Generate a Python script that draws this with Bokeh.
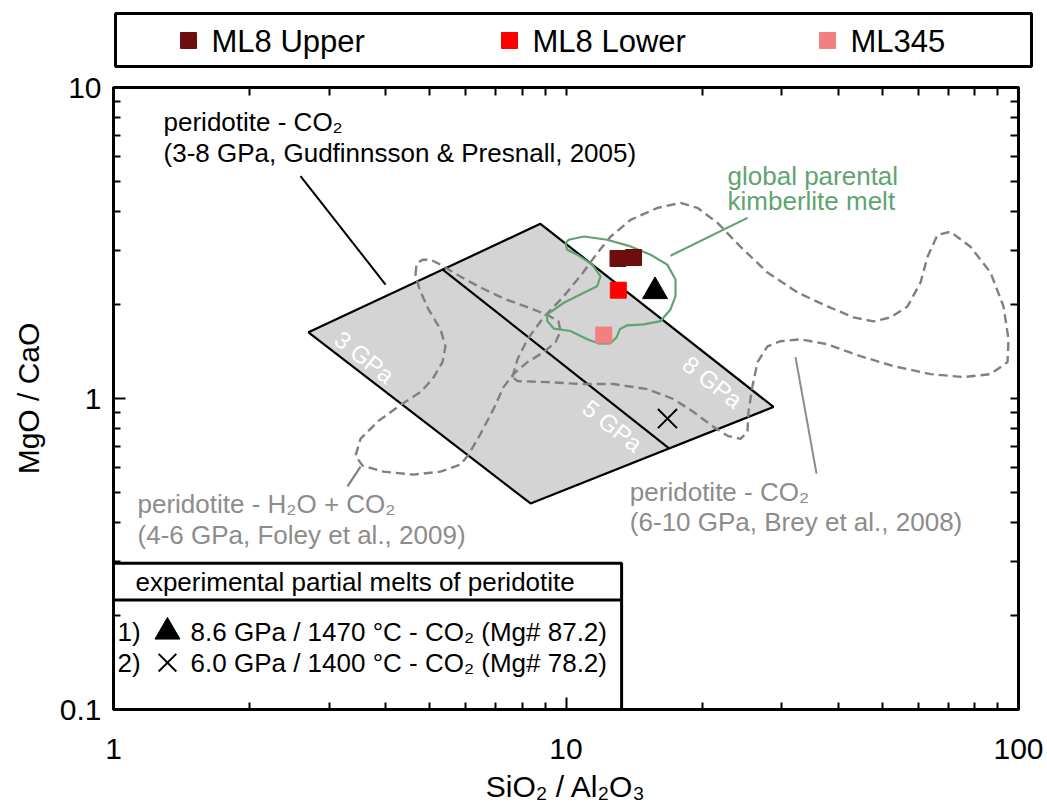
from bokeh.plotting import figure
from bokeh.models import Range1d, LogAxis, FixedTicker, CustomJSTickFormatter
from bokeh.layouts import column
from bokeh.core.properties import value
from bokeh.embed import file_html
from bokeh.resources import INLINE

FONT = "Liberation Sans"

# ---- samples (SiO2/Al2O3, MgO/CaO) ----
sample_names = ["ML8 Upper", "ML8 Lower", "ML345"]
sample_colors = ["#6E0D0D", "#FF0000", "#F28080"]
ml8_upper_x = [13.03, 14.10]
ml8_upper_y = [2.82, 2.84]
ml8_lower_x = [13.05]
ml8_lower_y = [2.23]
ml345_x = [12.12]
ml345_y = [1.60]

# ---- experimental partial melts of peridotite ----
melt1_x, melt1_y = [15.73], [2.21]    # 8.6 GPa / 1470 °C
melt2_x, melt2_y = [16.76], [0.862]   # 6.0 GPa / 1400 °C
melt_ids = ["1)", "2)"]
melt_texts = ["8.6 GPa / 1470 °C - CO₂ (Mg# 87.2)",
              "6.0 GPa / 1400 °C - CO₂ (Mg# 78.2)"]

# ---- peridotite - CO2 field (Gudfinnsson & Presnall, 2005) ----
field_x = [2.697, 8.78, 28.74, 8.35]
field_y = [1.632, 3.644, 0.9393, 0.4597]
gpa5_x = [5.325, 16.87]
gpa5_y = [2.606, 0.6929]
gpa_labels = ["3 GPa", "5 GPa", "8 GPa"]
gpa_label_x = [3.586, 12.67, 21.08]
gpa_label_y = [1.358, 0.8166, 1.129]

# ---- global parental kimberlite melt ----
kimb_x = [9.975, 10.14, 10.95, 12.33, 13.89, 15.38, 16.74, 17.46, 17.46, 17.02,
          16.18, 14.86, 13.65, 13.15, 12.93, 12.54, 11.82, 11.14, 10.23, 9.40,
          9.09, 9.09, 9.89, 10.95, 11.72, 11.92, 11.43, 10.59, 10.06]
kimb_y = [3.161, 3.239, 3.319, 3.239, 3.083, 2.900, 2.694, 2.412, 2.133, 1.934,
          1.774, 1.732, 1.719, 1.669, 1.570, 1.505, 1.502, 1.550, 1.648, 1.678,
          1.774, 1.864, 2.032, 2.187, 2.296, 2.472, 2.694, 2.900, 3.009]

# ---- peridotite - H2O + CO2 (Foley et al., 2009) ----
foley_x = [4.650, 4.674, 4.819, 5.018, 5.280, 5.846, 6.473, 7.276, 8.348, 9.149,
           9.626, 9.724, 9.480, 8.918, 8.221, 7.655, 7.276, 6.918, 6.473, 6.089,
           5.846, 5.280, 4.603, 3.952, 3.550, 3.426, 3.514, 3.852, 4.307, 4.770,
           5.069, 5.334, 5.416, 5.280, 4.967, 4.746]
foley_y = [2.503, 2.714, 2.795, 2.795, 2.694, 2.466, 2.275, 2.097, 1.949, 1.850,
           1.770, 1.644, 1.516, 1.409, 1.309, 1.198, 1.088, 0.9256, 0.7698, 0.6596,
           0.6128, 0.5818, 0.5691, 0.5818, 0.6081, 0.6546, 0.7420, 0.8472, 0.9532, 1.049,
           1.154, 1.309, 1.472, 1.669, 1.934, 2.241]

# ---- peridotite - CO2 (Brey et al., 2008) ----
brey_x = [7.617, 7.813, 8.221, 8.918, 9.874, 10.82, 11.74, 12.54, 13.89, 15.93,
          17.91, 19.53, 21.62, 24.30, 27.88, 32.48, 37.84, 43.19, 47.81, 52.13,
          56.84, 60.74, 62.94, 66.22, 70.73, 78.31, 86.73, 92.66, 95.05, 94.56,
          86.73, 75.57, 63.90, 52.93, 44.76, 37.84, 32.98, 29.79, 27.88, 26.50,
          25.83, 25.31, 25.18, 24.30, 22.75, 21.18, 19.13, 17.28, 15.14, 12.73,
          10.77, 9.102, 7.813]
brey_y = [1.172, 1.338, 1.550, 1.823, 2.128, 2.503, 2.943, 3.311, 3.753, 4.101,
          4.255, 4.101, 3.671, 3.076, 2.540, 2.192, 1.977, 1.823, 1.770, 1.823,
          1.977, 2.359, 2.858, 3.360, 3.436, 3.076, 2.540, 1.977, 1.550, 1.309,
          1.198, 1.172, 1.198, 1.271, 1.368, 1.494, 1.550, 1.528, 1.472, 1.309,
          1.096, 0.9053, 0.7812, 0.7420, 0.7586, 0.8105, 0.9053, 0.9963, 1.072, 1.113,
          1.113, 1.129, 1.138]

# ---- axis ticks ----
x_major = [1, 10, 100]
x_minor = [2, 3, 4, 5, 6, 7, 8, 9, 20, 30, 40, 50, 60, 70, 80, 90]
y_major = [0.1, 1, 10]
y_minor = [0.2, 0.3, 0.4, 0.5, 0.6, 0.7, 0.8, 0.9, 2, 3, 4, 5, 6, 7, 8, 9]

GREEN = "#5FA470"
DASH_GREY = "#808080"
TEXT_GREY = "#8C8C8C"
FIELD_GREY = "#D4D4D4"

# ================= sample legend strip =================
LEG_H = 70
leg = figure(width=1047, height=LEG_H, x_range=Range1d(0, 1047), y_range=Range1d(LEG_H, 0),
             output_backend="svg", toolbar_location=None, min_border=0,
             x_axis_location=None, y_axis_location=None)
leg.frame_align = False
leg.grid.visible = False
leg.outline_line_color = None
leg.background_fill_color = "white"
leg.border_fill_color = "white"
leg.quad(left=[115], right=[1031], top=[13], bottom=[66], fill_color="white",
         line_color="black", line_width=3)
leg.scatter(x=[188, 509, 827], y=[40, 40, 40], marker="square", size=16,
            fill_color=sample_colors, line_color=sample_colors)
leg.text(x=[211, 532, 850], y=[41, 41, 41], text=sample_names, text_font=value(FONT),
         text_font_size=value("31px"), text_color="black", text_align="left",
         text_baseline="middle")

# ================= main plot =================
p = figure(width=1047, height=805 - LEG_H, x_axis_type="log", y_axis_type="log",
           x_range=Range1d(1, 100), y_range=Range1d(0.1, 10),
           output_backend="svg", toolbar_location=None,
           min_border_left=113, min_border_right=29, min_border_top=87 - LEG_H,
           min_border_bottom=93)
p.frame_align = False
p.grid.visible = False
p.background_fill_color = "white"
p.border_fill_color = "white"
p.outline_line_color = "black"
p.outline_line_width = 3

xt = FixedTicker(ticks=x_major, minor_ticks=x_minor)
yt = FixedTicker(ticks=y_major, minor_ticks=y_minor)
fmt = CustomJSTickFormatter(code="return String(tick);")

# mirrored top / right axes: ticks only, no labels
p.add_layout(LogAxis(ticker=FixedTicker(ticks=[], minor_ticks=x_major + x_minor)), "above")
p.add_layout(LogAxis(ticker=FixedTicker(ticks=[], minor_ticks=y_major + y_minor)), "right")

p.below[0].ticker = xt
p.left[0].ticker = yt

for ax in list(p.xaxis) + list(p.yaxis):
    ax.axis_line_width = 3
    ax.axis_line_color = "black"
    ax.major_tick_in = 12
    ax.major_tick_out = 0
    ax.minor_tick_in = 7
    ax.minor_tick_out = 0
    ax.major_tick_line_width = 2
    ax.minor_tick_line_width = 2
    ax.major_tick_line_color = "black"
    ax.minor_tick_line_color = "black"
    ax.formatter = fmt
    ax.major_label_text_font = FONT
    ax.major_label_text_color = "black"
    ax.axis_label_text_font = FONT
    ax.axis_label_text_font_style = "normal"
    ax.axis_label_text_color = "black"

for ax in (p.above[0], p.right[0]):
    ax.minor_tick_in = 8
    ax.major_label_standoff = 0

bx = p.below[0]
bx.major_label_text_font_size = "30px"
bx.major_label_standoff = 29
bx.axis_label = "SiO₂ / Al₂O₃"
bx.axis_label_text_font_size = "30px"
bx.axis_label_standoff = 8

ly = p.left[0]
ly.major_label_text_font_size = "30px"
ly.major_label_standoff = 12
ly.axis_label = "MgO / CaO"
ly.axis_label_text_font_size = "30px"
ly.axis_label_standoff = 12

# CO2 field with the 5 GPa isobar
p.patch(field_x, field_y, fill_color=FIELD_GREY, line_color="black", line_width=2.2)
p.line(gpa5_x, gpa5_y, line_color="black", line_width=2.2)
p.text(x=gpa_label_x, y=gpa_label_y, text=gpa_labels, angle=-0.667,
       text_font=value(FONT), text_font_size=value("24px"), text_color="white",
       text_align="center", text_baseline="middle")

# other melt fields
p.patch(foley_x, foley_y, fill_alpha=0, line_color=DASH_GREY, line_width=2.4,
        line_dash="9 5")
p.patch(brey_x, brey_y, fill_alpha=0, line_color=DASH_GREY, line_width=2.4,
        line_dash="9 5")
p.patch(kimb_x, kimb_y, fill_alpha=0, line_color=GREEN, line_width=2.2)

# leader lines
p.line([2.590, 3.992], [5.190, 2.325], line_color="black", line_width=2)
p.line([25.18, 17.02], [3.809, 2.879], line_color=GREEN, line_width=2.2)
p.line([3.515, 3.290], [0.6037, 0.5216], line_color=DASH_GREY, line_width=2.2)
p.line([32.15, 35.78], [1.358, 0.5733], line_color=TEXT_GREY, line_width=2)

# samples
p.scatter(ml8_upper_x, ml8_upper_y, marker="square", size=16,
          fill_color=sample_colors[0], line_color=sample_colors[0])
p.scatter(ml8_lower_x, ml8_lower_y, marker="square", size=16,
          fill_color=sample_colors[1], line_color=sample_colors[1])
p.scatter(ml345_x, ml345_y, marker="square", size=16,
          fill_color=sample_colors[2], line_color=sample_colors[2])

# experimental melts
p.scatter(melt1_x, melt1_y, marker="triangle", size=25, fill_color="black",
          line_color="black")
p.scatter(melt2_x, melt2_y, marker="x", size=27, line_color="black", line_width=2)

TXT = dict(text_font=value(FONT), text_font_size=value("26px"), text_align="left",
           text_baseline="middle")
p.text(x=[1.290, 1.290], y=[7.727, 6.151],
       text=["peridotite - CO₂", "(3-8 GPa, Gudfinnsson & Presnall, 2005)"],
       text_color="black", **TXT)
p.text(x=[22.75, 22.75], y=[5.190, 4.317],
       text=["global parental", "kimberlite melt"], text_color=GREEN, **TXT)
p.text(x=[1.130, 1.130], y=[0.4563, 0.3631],
       text=["peridotite - H₂O + CO₂", "(4-6 GPa, Foley et al., 2009)"],
       text_color=TEXT_GREY, **TXT)
p.text(x=[13.84, 13.84], y=[0.5021, 0.3996],
       text=["peridotite - CO₂", "(6-10 GPa, Brey et al., 2008)"],
       text_color=TEXT_GREY, **TXT)

# key box for the experimental melts
p.quad(left=[1], right=[13.27], bottom=[0.1], top=[0.2954], fill_color="white",
       line_color="black", line_width=3)
p.line([1, 13.27], [0.2249, 0.2249], line_color="black", line_width=3)
p.text(x=[1.118], y=[0.2568], text=["experimental partial melts of peridotite"],
       text_color="black", **TXT)
key_y = [0.1777, 0.1414]
p.text(x=[1.0206, 1.0206], y=key_y, text=melt_ids, text_color="black", **TXT)
p.scatter([1.316], key_y[:1], marker="triangle", size=25, fill_color="black",
          line_color="black")
p.scatter([1.316], key_y[1:], marker="x", size=25, line_color="black", line_width=2)
p.text(x=[1.480, 1.480], y=key_y, text=melt_texts, text_color="black", **TXT)

layout = column(leg, p, spacing=0)
open("out.html", "w").write(file_html(layout, INLINE))
